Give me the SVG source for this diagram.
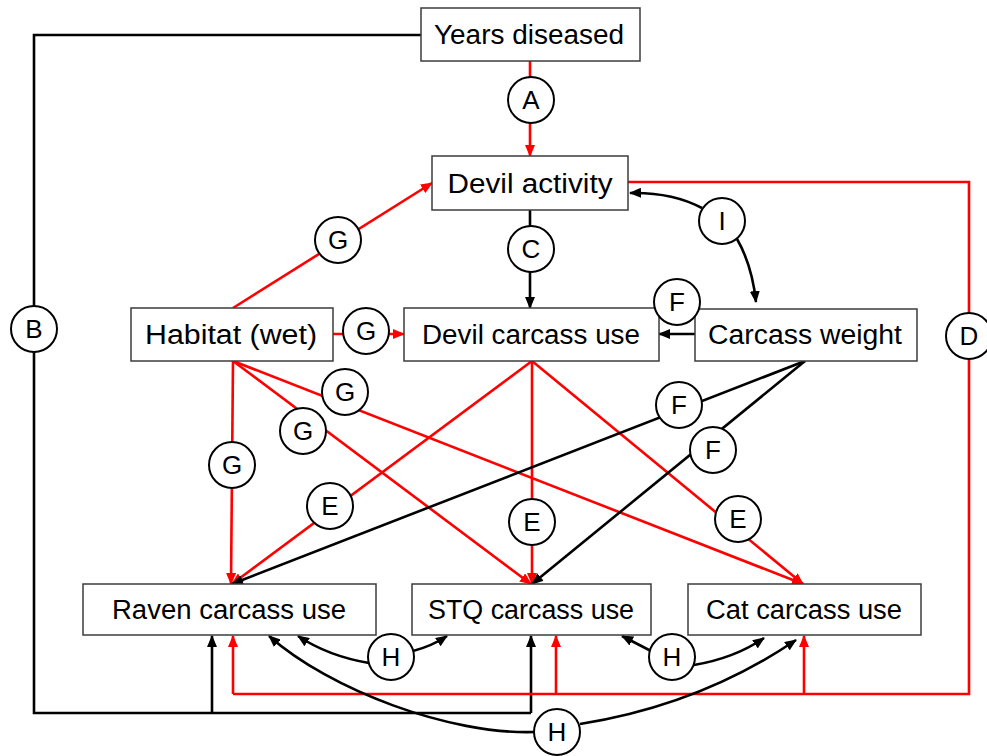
<svg xmlns="http://www.w3.org/2000/svg" width="987" height="756" viewBox="0 0 987 756">
<style>
.box{fill:#fff;stroke:#3c3c3c;stroke-width:1.5}
.lbl{font-family:"Liberation Sans",Arial,sans-serif;font-size:27px;fill:#000;text-anchor:middle}
.cl{font-family:"Liberation Sans",Arial,sans-serif;font-size:26px;fill:#000;text-anchor:middle}
.circ{fill:#fff;stroke:#000;stroke-width:2}
.r{fill:none;stroke:#ff0000;stroke-width:2.6}
.k{fill:none;stroke:#000;stroke-width:2.6}
.ra{marker-end:url(#ar)}
.ka{marker-end:url(#ak)}
</style>
<defs>
<marker id="ar" markerUnits="userSpaceOnUse" markerWidth="12" markerHeight="10" refX="11" refY="5" orient="auto"><path d="M0,0 L12,5 L0,10 z" fill="#ff0000"/></marker>
<marker id="ak" markerUnits="userSpaceOnUse" markerWidth="12" markerHeight="10" refX="11" refY="5" orient="auto"><path d="M0,0 L12,5 L0,10 z" fill="#000"/></marker>
</defs>
<rect width="987" height="756" fill="#fff"/>
<g id="connectors">
<!-- A -->
<path class="r ra" d="M530,61 L530,156"/>
<!-- B -->
<path class="k" d="M421,35 L34,35 L34,713 L531,713"/>
<path class="k ka" d="M212,713 L212,636"/>
<path class="k ka" d="M531,713 L531,636"/>
<!-- D -->
<path class="r" d="M628,182 L969,182 L969,694 L233,694"/>
<path class="r ra" d="M233,694 L233,636"/>
<path class="r ra" d="M556,694 L556,636"/>
<path class="r ra" d="M804,694 L804,636"/>
<!-- C -->
<path class="k ka" d="M530,210 L530,308"/>
<!-- I -->
<path class="k ka" d="M702,208 Q672,192 630,193"/>
<path class="k ka" d="M737,239 Q752,265 756,302"/>
<!-- F top -->
<path class="k ka" d="M695,334 L659,334"/>
<!-- G -->
<path class="r ra" d="M333,334 L404,334"/>
<path class="r ra" d="M233,308 L432,183"/>
<path class="r ra" d="M233,361 L231,584"/>
<path class="r ra" d="M233,361 L531,584"/>
<path class="r ra" d="M233,361 L803,584"/>
<!-- E -->
<path class="r ra" d="M532,361 L232,584"/>
<path class="r ra" d="M532,361 L532,584"/>
<path class="r ra" d="M532,361 L803,584"/>
<!-- F -->
<path class="k ka" d="M805,361 L232,584"/>
<path class="k ka" d="M805,361 L532,584"/>
<!-- H -->
<path class="k ka" d="M369,663 Q328,656 298,636"/>
<path class="k ka" d="M413,651 Q432,646 447,636"/>
<path class="k ka" d="M651,651 L622,636"/>
<path class="k ka" d="M694,665 Q735,658 764,638"/>
<path class="k ka" d="M535,732 C450,735 330,690 269,636"/>
<path class="k ka" d="M580,724 Q700,705 796,640"/>
</g>
<g id="labels">
<g id="lA"><circle class="circ" cx="531" cy="100" r="23"/><text class="cl" x="531" y="109">A</text></g>
<g id="lB"><circle class="circ" cx="34" cy="329" r="23"/><text class="cl" x="34" y="338">B</text></g>
<g id="lC"><circle class="circ" cx="531" cy="249" r="23"/><text class="cl" x="531" y="258">C</text></g>
<g id="lD"><circle class="circ" cx="969" cy="336" r="23"/><text class="cl" x="969" y="345">D</text></g>
<g id="lI"><circle class="circ" cx="722" cy="221" r="23"/><text class="cl" x="722" y="230">I</text></g>
<g id="lG1"><circle class="circ" cx="338" cy="240" r="23"/><text class="cl" x="338" y="249">G</text></g>
<g id="lG2"><circle class="circ" cx="366" cy="331" r="23"/><text class="cl" x="366" y="340">G</text></g>
<g id="lG3"><circle class="circ" cx="345" cy="392" r="23"/><text class="cl" x="345" y="401">G</text></g>
<g id="lG4"><circle class="circ" cx="303" cy="431" r="23"/><text class="cl" x="303" y="440">G</text></g>
<g id="lG5"><circle class="circ" cx="232" cy="465" r="23"/><text class="cl" x="232" y="474">G</text></g>
<g id="lE1"><circle class="circ" cx="330" cy="506" r="23"/><text class="cl" x="330" y="515">E</text></g>
<g id="lE2"><circle class="circ" cx="532" cy="522" r="23"/><text class="cl" x="532" y="531">E</text></g>
<g id="lE3"><circle class="circ" cx="738" cy="519" r="23"/><text class="cl" x="738" y="528">E</text></g>
<g id="lF2"><circle class="circ" cx="679" cy="405" r="23"/><text class="cl" x="679" y="414">F</text></g>
<g id="lF3"><circle class="circ" cx="713" cy="450" r="23"/><text class="cl" x="713" y="459">F</text></g>
<g id="lH1"><circle class="circ" cx="391" cy="657" r="23"/><text class="cl" x="391" y="666">H</text></g>
<g id="lH2"><circle class="circ" cx="672" cy="657" r="23"/><text class="cl" x="672" y="666">H</text></g>
<g id="lH3"><circle class="circ" cx="557" cy="732" r="23"/><text class="cl" x="557" y="741">H</text></g>
</g>
<g id="years"><rect class="box" x="421" y="8" width="219" height="53"/><text class="lbl" x="529" y="44" textLength="190" lengthAdjust="spacingAndGlyphs">Years diseased</text></g>
<g id="devilActivity"><rect class="box" x="432" y="156" width="196" height="54"/><text class="lbl" x="530" y="193" textLength="165" lengthAdjust="spacingAndGlyphs">Devil activity</text></g>
<g id="habitat"><rect class="box" x="131" y="308" width="202" height="53"/><text class="lbl" x="231" y="344" textLength="172" lengthAdjust="spacingAndGlyphs">Habitat (wet)</text></g>
<g id="devilCarcass"><rect class="box" x="404" y="308" width="255" height="53"/><text class="lbl" x="531" y="344" textLength="218" lengthAdjust="spacingAndGlyphs">Devil carcass use</text></g>
<g id="carcassWeight"><rect class="box" x="695" y="309" width="222" height="52"/><text class="lbl" x="805" y="344" textLength="194" lengthAdjust="spacingAndGlyphs">Carcass weight</text></g>
<g id="raven"><rect class="box" x="83" y="584" width="293" height="51"/><text class="lbl" x="229" y="619" textLength="234" lengthAdjust="spacingAndGlyphs">Raven carcass use</text></g>
<g id="stq"><rect class="box" x="412" y="584" width="239" height="51"/><text class="lbl" x="531" y="619" textLength="206" lengthAdjust="spacingAndGlyphs">STQ carcass use</text></g>
<g id="cat"><rect class="box" x="688" y="584" width="233" height="51"/><text class="lbl" x="804" y="619" textLength="196" lengthAdjust="spacingAndGlyphs">Cat carcass use</text></g>
<g id="lF1"><circle class="circ" cx="677" cy="302" r="23"/><text class="cl" x="677" y="311">F</text></g>
</svg>
